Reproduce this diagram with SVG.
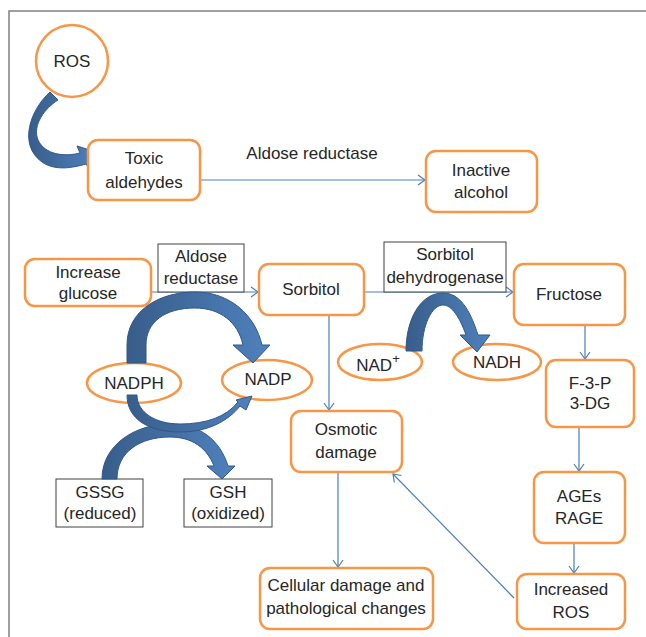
<svg xmlns="http://www.w3.org/2000/svg" width="646" height="637" viewBox="0 0 646 637">
<defs>
<style>
.n{fill:#fff;stroke:#F79646;stroke-width:2.5}
.b{fill:#fff;stroke:#404040;stroke-width:1}
.t{font-family:"Liberation Sans",Arial,sans-serif;font-size:17px;fill:#262626;text-anchor:middle}
.c{fill:none;stroke:#4A7EBB;stroke-width:1.2}
.ba{fill:url(#g);stroke:#2F5889;stroke-width:1}
</style>
<linearGradient id="g" x1="0" y1="0" x2="1" y2="0">
<stop offset="0" stop-color="#385D8A"/>
<stop offset="1" stop-color="#4F81BD"/>
</linearGradient>
<marker id="a" markerWidth="12" markerHeight="12" refX="10" refY="6" orient="auto" markerUnits="userSpaceOnUse">
<polyline points="3,1 10,6 3,11" fill="none" stroke="#4A7EBB" stroke-width="1.2"/>
</marker>
</defs>
<rect width="646" height="637" fill="#fff"/>
<path d="M9,637 L9,11 L646,11" fill="none" stroke="#808080" stroke-width="1.5"/>

<g id="connectors">
<line class="c" x1="200" y1="180" x2="425" y2="180" marker-end="url(#a)"/>
<line class="c" x1="151" y1="292" x2="258" y2="292" marker-end="url(#a)"/>
<line class="c" x1="364" y1="292" x2="513" y2="292" marker-end="url(#a)"/>
<line class="c" x1="329" y1="315" x2="329" y2="410" marker-end="url(#a)"/>
<line class="c" x1="585" y1="325" x2="585" y2="359" marker-end="url(#a)"/>
<line class="c" x1="579" y1="427" x2="579" y2="471" marker-end="url(#a)"/>
<line class="c" x1="574" y1="543" x2="574" y2="573" marker-end="url(#a)"/>
<line class="c" x1="338" y1="472" x2="338" y2="567" marker-end="url(#a)"/>
<line class="c" x1="514" y1="598" x2="393" y2="474" marker-end="url(#a)"/>
</g>

<g id="ros-top">
<circle class="n" cx="72" cy="61" r="36"/>
<text class="t" x="72" y="67">ROS</text>
</g>
<g id="arrow-ros">
<path class="ba" d="M50,92 C30,110 18,145 42,162 C55,171 72,168 86,164 L90,170 L96,152 L77,146 L80,153 C65,157 45,155 38,140 C32,125 45,108 58,100 Z"/>
</g>
<g id="toxic">
<rect class="n" x="88" y="140" width="112" height="60" rx="10"/>
<text class="t" x="144" y="164">Toxic</text>
<text class="t" x="144" y="188">aldehydes</text>
</g>
<g id="label-ar">
<text class="t" x="312" y="159">Aldose reductase</text>
</g>
<g id="inactive">
<rect class="n" x="426" y="151" width="111" height="61" rx="10"/>
<text class="t" x="481" y="176">Inactive</text>
<text class="t" x="481" y="198">alcohol</text>
</g>

<g id="glucose">
<rect class="n" x="25" y="259" width="126" height="47" rx="10"/>
<text class="t" x="88" y="278">Increase</text>
<text class="t" x="88" y="299">glucose</text>
</g>
<g id="ar-box">
<rect class="b" x="158" y="244" width="86" height="48"/>
<text class="t" x="201" y="262">Aldose</text>
<text class="t" x="201" y="284">reductase</text>
</g>
<g id="sorbitol">
<rect class="n" x="259" y="264" width="105" height="51" rx="10"/>
<text class="t" x="311" y="295">Sorbitol</text>
</g>
<g id="sdh-box">
<rect class="b" x="384" y="242" width="122" height="50"/>
<text class="t" x="445" y="260">Sorbitol</text>
<text class="t" x="445" y="283">dehydrogenase</text>
</g>
<g id="fructose">
<rect class="n" x="514" y="264" width="111" height="61" rx="10"/>
<text class="t" x="569" y="300">Fructose</text>
</g>
<g id="f3p">
<rect class="n" x="546" y="360" width="88" height="67" rx="10"/>
<text class="t" x="590" y="389">F-3-P</text>
<text class="t" x="590" y="409">3-DG</text>
</g>
<g id="ages">
<rect class="n" x="534" y="472" width="91" height="71" rx="10"/>
<text class="t" x="579" y="502">AGEs</text>
<text class="t" x="579" y="524">RAGE</text>
</g>
<g id="ros-inc">
<rect class="n" x="517" y="574" width="108" height="55" rx="10"/>
<text class="t" x="571" y="595">Increased</text>
<text class="t" x="571" y="618">ROS</text>
</g>
<g id="osmotic">
<rect class="n" x="291" y="411" width="111" height="61" rx="10"/>
<text class="t" x="346" y="435">Osmotic</text>
<text class="t" x="346" y="458">damage</text>
</g>
<g id="cellular">
<rect class="n" x="260" y="568" width="173" height="61" rx="10"/>
<text class="t" x="346" y="591">Cellular damage and</text>
<text class="t" x="346" y="614">pathological changes</text>
</g>

<g id="nadph">
<ellipse class="n" cx="134" cy="383" rx="47" ry="20"/>
<text class="t" x="134" y="389">NADPH</text>
</g>
<g id="nadp">
<ellipse class="n" cx="267" cy="380" rx="45" ry="20"/>
<text class="t" x="268" y="385">NADP</text>
</g>
<g id="nadplus">
<ellipse class="n" cx="380" cy="362" rx="42" ry="18"/>
<text class="t" x="378" y="371">NAD<tspan font-size="13" dy="-8">+</tspan></text>
</g>
<g id="nadh">
<ellipse class="n" cx="497" cy="362" rx="44" ry="18"/>
<text class="t" x="497" y="368">NADH</text>
</g>
<g id="gssg">
<rect class="b" x="56" y="479" width="87" height="48"/>
<text class="t" x="100" y="498">GSSG</text>
<text class="t" x="100" y="519">(reduced)</text>
</g>
<g id="gsh">
<rect class="b" x="184" y="479" width="88" height="48"/>
<text class="t" x="228" y="498">GSH</text>
<text class="t" x="228" y="519">(oxidized)</text>
</g>

<g id="arrow-nadph-nadp">
<path class="ba" d="M127,363 L127,345 C127,310 160,292 195,292 C230,292 255,315 262,345 L270,345 L253,363 L233,345 L243,345 C238,322 220,308 195,308 C165,308 146,322 146,345 L146,363 Z"/>
</g>
<g id="arrow-gssg-gsh">
<path class="ba" d="M102,479 C102,445 135,424 170,424 C200,424 220,440 228,466 L235,466 L222,479 L207,466 L214,466 C207,448 192,437 170,437 C140,437 117,452 117,479 Z"/>
</g>
<g id="arrow-nadph-nadp2">
<path class="ba" d="M127,395 C127,420 150,432 180,432 C208,432 228,421 240,406 L246,410 L252,396 L236,400 L238,402 C226,417 206,424 180,424 C155,424 137,412 137,395 Z"/>
</g>
<g id="arrow-nad">
<path class="ba" d="M406,351 C406,320 420,293 443,293 C460,293 470,310 478,335 L490,335 L477,352 L460,335 L466,335 C460,318 452,305 443,305 C432,305 422,325 422,351 Z"/>
</g>
</svg>
